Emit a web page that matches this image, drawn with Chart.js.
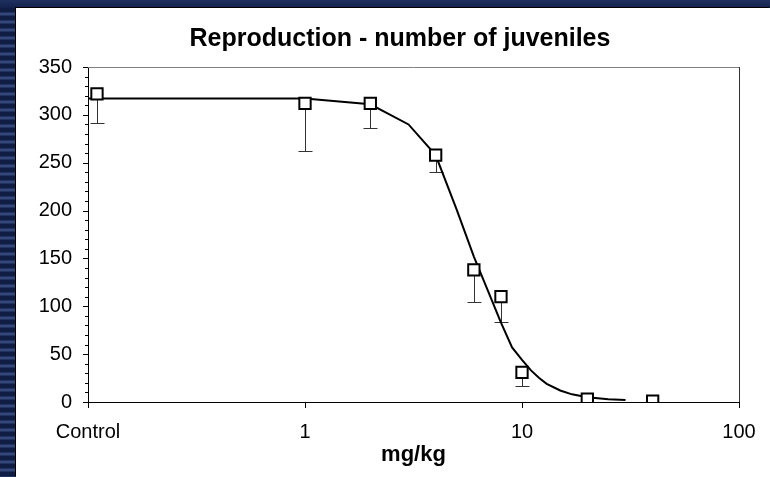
<!DOCTYPE html>
<html>
<head>
<meta charset="utf-8">
<script src="https://cdn.jsdelivr.net/npm/chart.js@4.4.1/dist/chart.umd.min.js"></script>
<style>
  html, body { margin: 0; padding: 0; }
  body { width: 770px; height: 477px; overflow: hidden; position: relative; background: #15244f; }
  #faixa {
    position: absolute; left: 0; top: 0; width: 16px; height: 477px;
    background: repeating-linear-gradient(to bottom, #0f1c44 0px, #0f1c44 4px, #33477a 5px, #33477a 7px, #0f1c44 8px);
  }
  #topo { position: absolute; left: 0; top: 0; width: 770px; height: 8px; background: linear-gradient(to bottom, #1f3060, #13224c); }
  #painel { position: absolute; left: 16px; top: 8px; width: 754px; height: 469px; background: #fff; box-shadow: -1px -1px 0 #000; }
  canvas { display: block; }
</style>
</head>
<body>
<div id="faixa"></div>
<div id="topo"></div>
<div id="painel"><canvas id="grafico" width="754" height="469"></canvas></div>
<script>
/* reprodução — número de juvenis por dose (escala log) */

const COR_PRETO = "#000";
const FONTE = "'Liberation Sans', Arial, sans-serif";

// pontos medidos (controle desenhado em 0.11)
const doses        = [0.11, 1, 2, 4, 6, 8, 10, 20, 40];
const juvenis      = [322, 312, 312, 258, 138, 110, 31, 3, 1];
const limiteErro   = [291, 262, 286, 240, 104, 84, 17, null, null]; // extremo inferior da barra

// curva ajustada
const curvaX = [0.1, 1, 2, 3, 4, 5, 6, 7, 8, 9, 10, 11, 12, 13, 15, 17, 20, 25, 30];
const curvaY = [317, 317, 311, 290, 258, 201, 152, 115, 83, 57, 44, 33, 25, 19, 12, 8, 5, 3, 2];

// eixos
const ticksX   = [0.1, 1, 10, 100];
const rotulosX = ["Control", "1", "10", "100"];
const Y_MIN = 0, Y_MAX = 350, Y_PASSO = 50, Y_MENOR = 10;

const TITULO = "Reproduction - number of juveniles";
const TITULO_X = "mg/kg";

Chart.defaults.font.family = FONTE;
Chart.defaults.color = COR_PRETO;

// moldura da área, marcas dos eixos e barras de erro
const moldura = {
  id: "moldura",
  beforeDatasetsDraw(chart) {
    const { ctx, chartArea: a, scales } = chart;
    const sx = scales.x, sy = scales.y;
    ctx.save();
    ctx.lineWidth = 1;

    ctx.strokeStyle = "#808080";
    ctx.beginPath();
    ctx.moveTo(a.left, a.top + 0.5);
    ctx.lineTo(a.right, a.top + 0.5);
    ctx.stroke();

    ctx.strokeStyle = COR_PRETO;
    ctx.beginPath();
    for (let v = Y_MIN; v <= Y_MAX; v += Y_MENOR) {
      const py = Math.round(sy.getPixelForValue(v)) + 0.5;
      const len = v % Y_PASSO === 0 ? 5 : 3;
      ctx.moveTo(a.left - len, py);
      ctx.lineTo(a.left, py);
    }
    for (const v of ticksX) {
      const px = Math.round(sx.getPixelForValue(v)) + 0.5;
      ctx.moveTo(px, a.bottom);
      ctx.lineTo(px, a.bottom + 6);
    }
    ctx.stroke();

    // barras de erro (só para baixo)
    ctx.strokeStyle = "#333";
    ctx.beginPath();
    for (let i = 0; i < doses.length; i++) {
      if (limiteErro[i] == null) continue;
      const px = Math.round(sx.getPixelForValue(doses[i])) + 0.5;
      const y0 = sy.getPixelForValue(juvenis[i]);
      const y1 = Math.round(sy.getPixelForValue(limiteErro[i])) + 0.5;
      ctx.moveTo(px, y0);
      ctx.lineTo(px, y1);
      ctx.moveTo(px - 7, y1);
      ctx.lineTo(px + 7, y1);
    }
    ctx.stroke();
    ctx.restore();
  }
};

const ctx = document.getElementById("grafico").getContext("2d");
new Chart(ctx, {
  type: "line",
  data: {
    datasets: [
      {
        label: "Observado",
        data: doses.map((d, i) => ({ x: d, y: juvenis[i] })),
        showLine: false,
        pointStyle: "rect",
        pointRadius: 8,
        pointBorderWidth: 2,
        pointBorderColor: COR_PRETO,
        pointBackgroundColor: "#fff",
        order: 0,
      },
      {
        label: "Ajuste",
        data: curvaX.map((d, i) => ({ x: d, y: curvaY[i] })),
        borderColor: COR_PRETO,
        borderWidth: 2,
        pointRadius: 0,
        tension: 0,
        fill: false,
        order: 1,
      }
    ]
  },
  options: {
    responsive: false,
    animation: false,
    layout: { padding: { left: 14, top: 0, right: 0, bottom: 0 } },
    plugins: {
      legend: { display: false },
      tooltip: { enabled: false },
      title: {
        display: true,
        text: TITULO,
        color: COR_PRETO,
        font: { size: 25, weight: "bold", family: FONTE, lineHeight: 1.2 },
        padding: { top: 16, bottom: 13 },
      }
    },
    scales: {
      x: {
        type: "logarithmic",
        min: 0.1,
        max: 100,
        afterBuildTicks: s => { s.ticks = ticksX.map(v => ({ value: v })); },
        afterFit: s => { s.height = 75; s.paddingLeft = 0; s.paddingRight = 0; },
        grid: { display: false, drawTicks: false },
        border: { display: true, color: COR_PRETO, width: 1 },
        ticks: {
          autoSkip: false,
          maxRotation: 0,
          padding: 18,
          color: COR_PRETO,
          font: { size: 20 },
          callback: (v, i) => rotulosX[i],
        },
        title: {
          display: true,
          text: TITULO_X,
          color: COR_PRETO,
          font: { size: 22, weight: "bold" },
          padding: { top: 0, bottom: 9 },
        }
      },
      y: {
        min: Y_MIN,
        max: Y_MAX,
        afterFit: s => { s.width = 58; },
        grid: { display: false, drawTicks: false },
        border: { display: true, color: COR_PRETO, width: 1 },
        ticks: {
          stepSize: Y_PASSO,
          padding: 16,
          color: COR_PRETO,
          font: { size: 20 },
        }
      },
      y2: {
        position: "right",
        afterFit: s => { s.width = 31; },
        grid: { display: false, drawTicks: false },
        border: { display: true, color: "#333", width: 1 },
        ticks: { display: false },
      }
    }
  },
  plugins: [moldura]
});
</script>
</body>
</html>
